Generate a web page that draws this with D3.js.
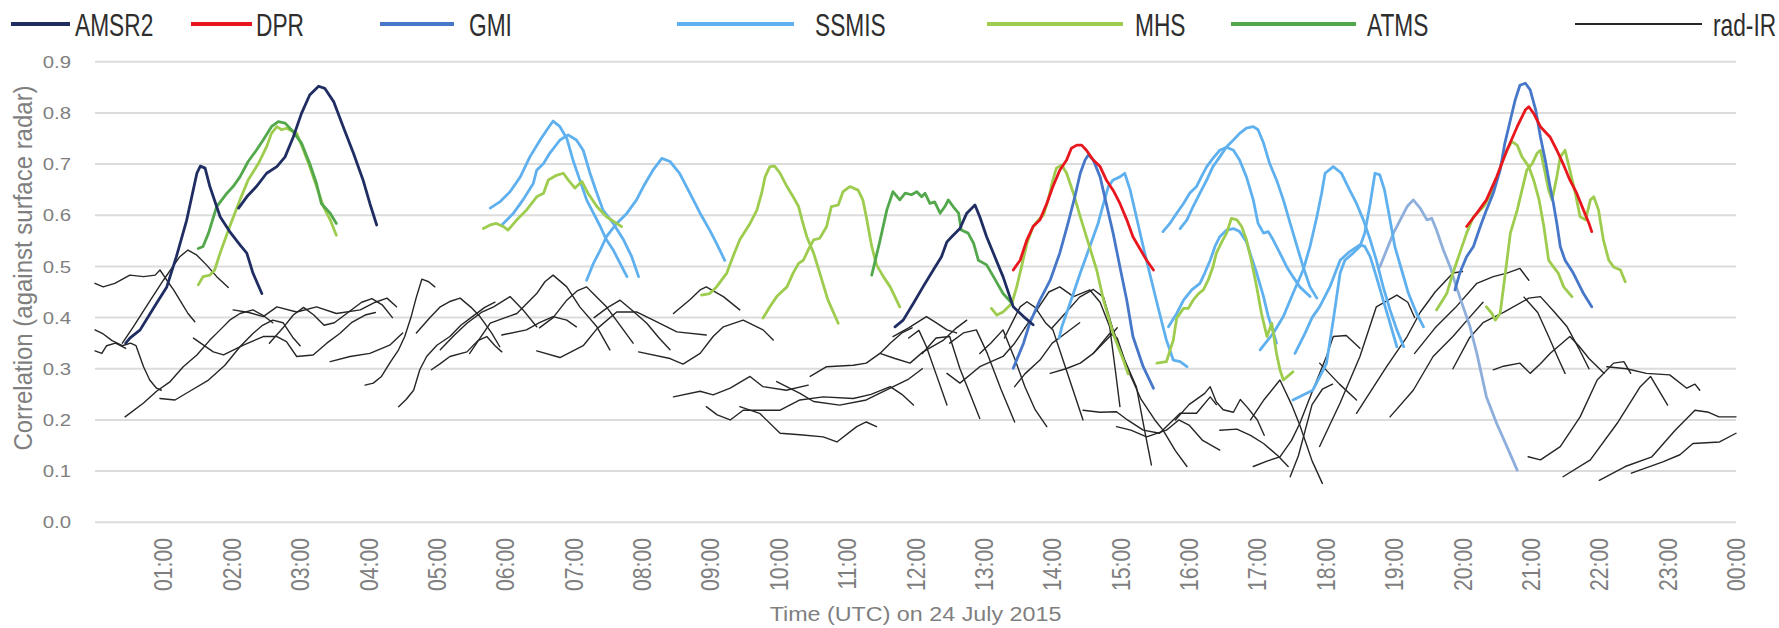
<!DOCTYPE html>
<html>
<head>
<meta charset="utf-8">
<script src="https://cdn.jsdelivr.net/npm/d3@7"></script>
<style>
  body { margin: 0; background: #fff; }
  text { font-family: "Liberation Sans", Arial, sans-serif; }
</style>
</head>
<body>
<div id="chart"></div>
<script>
// time in hours (UTC, 24 July 2015), correlation against surface radar
var seriesNames = ["AMSR2", "DPR", "GMI", "SSMIS", "MHS", "ATMS", "rad-IR"];
var yTicks = [0, 0.1, 0.2, 0.3, 0.4, 0.5, 0.6, 0.7, 0.8, 0.9];
var xTicks = [1, 2, 3, 4, 5, 6, 7, 8, 9, 10, 11, 12, 13, 14, 15, 16, 17, 18, 19, 20, 21, 22, 23, 24];
var xTickLabels = ["01:00", "02:00", "03:00", "04:00", "05:00", "06:00", "07:00", "08:00", "09:00", "10:00", "11:00", "12:00",
                   "13:00", "14:00", "15:00", "16:00", "17:00", "18:00", "19:00", "20:00", "21:00", "22:00", "23:00", "00:00"];

var amsr2 = [
  [[0.45,0.35],[0.51,0.36],[0.66,0.376],[0.90,0.428],[1.05,0.46],[1.19,0.519],[1.34,0.59],[1.49,0.682],[1.54,0.696],[1.61,0.692],[1.68,0.656],[1.83,0.597],[1.97,0.568],[2.12,0.542],[2.22,0.526],[2.31,0.487],[2.44,0.447]],
  [[2.10,0.614],[2.22,0.636],[2.36,0.656],[2.51,0.682],[2.66,0.695],[2.78,0.714],[2.90,0.753],[3.02,0.799],[3.14,0.835],[3.27,0.852],[3.36,0.848],[3.49,0.822],[3.63,0.773],[3.78,0.721],[3.92,0.669],[4.02,0.623],[4.12,0.581]],
  [[11.70,0.382],[11.82,0.395],[11.97,0.428],[12.11,0.46],[12.26,0.493],[12.38,0.519],[12.46,0.548],[12.53,0.558],[12.65,0.574],[12.75,0.604],[12.87,0.62],[12.94,0.597],[13.04,0.558],[13.16,0.519],[13.28,0.48],[13.43,0.421],[13.58,0.402],[13.72,0.386]]
];

var dpr = [
  [[13.43,0.493],[13.53,0.512],[13.63,0.552],[13.72,0.578],[13.82,0.591],[13.92,0.623],[14.01,0.656],[14.11,0.688],[14.21,0.708],[14.28,0.731],[14.36,0.737],[14.43,0.737],[14.50,0.727],[14.60,0.708],[14.70,0.695],[14.79,0.669],[14.89,0.649],[14.99,0.623],[15.09,0.591],[15.18,0.558],[15.28,0.535],[15.38,0.512],[15.48,0.493]],
  [[20.06,0.578],[20.21,0.604],[20.35,0.63],[20.50,0.675],[20.65,0.727],[20.80,0.773],[20.92,0.806],[20.97,0.812],[21.04,0.799],[21.14,0.773],[21.28,0.753],[21.38,0.727],[21.47,0.701],[21.57,0.669],[21.67,0.643],[21.77,0.61],[21.85,0.584],[21.89,0.568]]
];

var gmi = [
  [[13.43,0.301],[13.58,0.35],[13.67,0.389],[13.82,0.434],[13.97,0.473],[14.11,0.526],[14.23,0.584],[14.33,0.636],[14.41,0.682],[14.48,0.708],[14.53,0.718],[14.60,0.708],[14.70,0.675],[14.79,0.623],[14.89,0.565],[14.99,0.499],[15.09,0.434],[15.18,0.363],[15.33,0.304],[15.48,0.262]],
  [[19.89,0.454],[19.96,0.487],[20.06,0.519],[20.16,0.539],[20.26,0.578],[20.35,0.61],[20.45,0.643],[20.55,0.688],[20.62,0.741],[20.70,0.786],[20.77,0.825],[20.84,0.854],[20.92,0.858],[20.99,0.845],[21.07,0.806],[21.14,0.753],[21.21,0.708],[21.28,0.656],[21.33,0.623],[21.38,0.584],[21.43,0.539],[21.50,0.512],[21.62,0.487],[21.77,0.447],[21.89,0.421]]
];

var ssmis = [
  [[5.78,0.614],[5.92,0.626],[6.07,0.646],[6.22,0.675],[6.36,0.714],[6.51,0.747],[6.61,0.767],[6.70,0.784],[6.80,0.773],[6.90,0.75],[6.99,0.708],[7.09,0.669],[7.19,0.63],[7.29,0.604],[7.39,0.578],[7.48,0.552],[7.58,0.532],[7.68,0.506],[7.78,0.48]],
  [[5.95,0.581],[6.12,0.604],[6.26,0.63],[6.41,0.662],[6.46,0.688],[6.56,0.701],[6.65,0.721],[6.80,0.747],[6.92,0.757],[7.04,0.747],[7.14,0.727],[7.24,0.682],[7.34,0.643],[7.43,0.61],[7.58,0.584],[7.73,0.552],[7.85,0.519],[7.95,0.48]],
  [[7.19,0.473],[7.29,0.506],[7.39,0.532],[7.48,0.558],[7.63,0.584],[7.78,0.604],[7.92,0.63],[8.02,0.656],[8.16,0.688],[8.29,0.711],[8.41,0.705],[8.55,0.682],[8.70,0.643],[8.85,0.604],[8.99,0.571],[9.09,0.545],[9.21,0.512]],
  [[14.10,0.36],[14.14,0.382],[14.26,0.428],[14.41,0.487],[14.55,0.539],[14.67,0.584],[14.75,0.623],[14.82,0.656],[14.89,0.669],[14.99,0.675],[15.06,0.682],[15.14,0.649],[15.23,0.597],[15.33,0.539],[15.45,0.473],[15.57,0.408],[15.67,0.356],[15.77,0.317],[15.87,0.314],[15.97,0.304]],
  [[15.62,0.568],[15.72,0.584],[15.82,0.604],[15.92,0.623],[16.01,0.643],[16.11,0.656],[16.18,0.675],[16.26,0.695],[16.35,0.711],[16.45,0.727],[16.55,0.733],[16.65,0.727],[16.74,0.708],[16.84,0.675],[16.94,0.63],[17.01,0.584],[17.09,0.565],[17.16,0.568],[17.23,0.552],[17.33,0.526],[17.43,0.499],[17.52,0.48],[17.62,0.46],[17.77,0.441]],
  [[15.87,0.574],[15.97,0.591],[16.06,0.617],[16.16,0.643],[16.26,0.669],[16.35,0.695],[16.45,0.714],[16.55,0.734],[16.65,0.747],[16.74,0.76],[16.84,0.77],[16.94,0.773],[17.01,0.767],[17.09,0.741],[17.18,0.701],[17.28,0.669],[17.38,0.63],[17.48,0.584],[17.58,0.539],[17.67,0.499],[17.77,0.46],[17.87,0.438]],
  [[15.70,0.382],[15.82,0.408],[15.92,0.434],[16.04,0.454],[16.16,0.467],[16.23,0.487],[16.31,0.512],[16.38,0.539],[16.45,0.558],[16.55,0.571],[16.65,0.574],[16.74,0.568],[16.84,0.548],[16.91,0.519],[16.99,0.487],[17.09,0.441],[17.16,0.402],[17.21,0.382],[17.28,0.35]],
  [[17.04,0.337],[17.23,0.369],[17.38,0.402],[17.52,0.447],[17.67,0.493],[17.77,0.539],[17.87,0.597],[17.94,0.643],[17.99,0.682],[18.11,0.695],[18.23,0.682],[18.35,0.649],[18.45,0.623],[18.55,0.591],[18.65,0.552],[18.74,0.512],[18.84,0.46],[18.94,0.415],[19.04,0.376],[19.14,0.343]],
  [[17.55,0.33],[17.70,0.37],[17.80,0.40],[17.91,0.421],[18.06,0.46],[18.21,0.512],[18.35,0.529],[18.50,0.542],[18.57,0.539],[18.65,0.519],[18.74,0.48],[18.84,0.434],[18.94,0.389],[19.04,0.343]],
  [[17.52,0.239],[17.81,0.258],[18.01,0.31],[18.11,0.395],[18.21,0.487],[18.28,0.512],[18.40,0.526],[18.50,0.539],[18.57,0.565],[18.65,0.623],[18.72,0.682],[18.79,0.679],[18.86,0.649],[18.94,0.591],[19.01,0.539],[19.11,0.493],[19.21,0.447],[19.33,0.408],[19.43,0.382]]
];
// the paler SSMIS overpass near 19:00-21:00
var ssmisPale = [
  [[18.79,0.499],[18.89,0.532],[18.99,0.565],[19.09,0.591],[19.19,0.617],[19.28,0.63],[19.38,0.614],[19.48,0.591],[19.55,0.594],[19.62,0.571],[19.72,0.532],[19.82,0.499],[19.91,0.46],[20.01,0.421],[20.11,0.382],[20.21,0.33],[20.35,0.245],[20.50,0.193],[20.65,0.148],[20.80,0.102]]
];

var mhs = [
  [[1.51,0.464],[1.58,0.48],[1.68,0.483],[1.75,0.493],[1.83,0.526],[1.97,0.578],[2.12,0.63],[2.24,0.669],[2.39,0.701],[2.51,0.734],[2.58,0.76],[2.66,0.773],[2.73,0.767],[2.80,0.77],[2.95,0.76],[3.05,0.727],[3.14,0.695],[3.24,0.656],[3.34,0.617],[3.44,0.591],[3.53,0.561]],
  [[5.68,0.574],[5.78,0.581],[5.87,0.584],[5.97,0.578],[6.04,0.571],[6.17,0.591],[6.31,0.61],[6.46,0.636],[6.56,0.643],[6.63,0.669],[6.75,0.678],[6.85,0.682],[6.92,0.669],[7.02,0.653],[7.12,0.666],[7.21,0.643],[7.34,0.617],[7.48,0.597],[7.63,0.584],[7.70,0.578]],
  [[8.87,0.444],[8.99,0.447],[9.09,0.46],[9.24,0.487],[9.33,0.519],[9.43,0.552],[9.58,0.584],[9.68,0.61],[9.75,0.643],[9.80,0.675],[9.87,0.695],[9.94,0.696],[10.02,0.682],[10.12,0.656],[10.21,0.636],[10.29,0.617],[10.34,0.591],[10.41,0.558],[10.51,0.526],[10.60,0.487],[10.72,0.434],[10.87,0.389]],
  [[9.77,0.399],[9.87,0.421],[9.97,0.441],[10.12,0.46],[10.21,0.487],[10.29,0.506],[10.36,0.512],[10.43,0.532],[10.51,0.552],[10.60,0.555],[10.70,0.578],[10.77,0.617],[10.87,0.62],[10.94,0.646],[11.04,0.656],[11.16,0.649],[11.23,0.63],[11.28,0.597],[11.36,0.539],[11.43,0.503],[11.53,0.48],[11.63,0.46],[11.77,0.421]],
  [[13.11,0.418],[13.19,0.405],[13.28,0.411],[13.41,0.428],[13.48,0.46],[13.55,0.499],[13.63,0.545],[13.72,0.578],[13.80,0.591],[13.87,0.6],[13.94,0.63],[14.01,0.669],[14.06,0.692],[14.14,0.698],[14.21,0.682],[14.31,0.643],[14.41,0.597],[14.53,0.545],[14.65,0.493],[14.75,0.434],[14.89,0.369],[15.04,0.317],[15.11,0.29]],
  [[15.53,0.311],[15.67,0.314],[15.77,0.356],[15.82,0.399],[15.92,0.418],[15.99,0.418],[16.06,0.434],[16.14,0.447],[16.21,0.454],[16.28,0.473],[16.35,0.499],[16.40,0.526],[16.48,0.548],[16.55,0.565],[16.62,0.594],[16.70,0.591],[16.77,0.578],[16.84,0.552],[16.91,0.512],[16.99,0.46],[17.06,0.408],[17.14,0.363],[17.21,0.389],[17.28,0.33],[17.33,0.298],[17.38,0.278],[17.52,0.294]],
  [[19.62,0.415],[19.77,0.447],[19.86,0.487],[19.96,0.526],[20.06,0.565],[20.16,0.597],[20.31,0.617],[20.45,0.649],[20.57,0.701],[20.65,0.727],[20.72,0.744],[20.80,0.737],[20.87,0.714],[20.97,0.695],[21.04,0.669],[21.12,0.63],[21.19,0.578],[21.26,0.512],[21.33,0.499],[21.40,0.487],[21.48,0.46],[21.60,0.441]],
  [[20.35,0.421],[20.43,0.408],[20.48,0.395],[20.55,0.408],[20.62,0.48],[20.70,0.565],[20.80,0.61],[20.87,0.649],[20.94,0.688],[21.02,0.701],[21.09,0.721],[21.14,0.727],[21.19,0.695],[21.26,0.649],[21.31,0.63],[21.38,0.675],[21.43,0.714],[21.50,0.727],[21.57,0.688],[21.65,0.643],[21.72,0.597],[21.80,0.591],[21.87,0.63],[21.92,0.636],[21.99,0.61],[22.06,0.552],[22.14,0.512],[22.21,0.499],[22.31,0.493],[22.38,0.47]]
];

var atms = [
  [[1.51,0.535],[1.58,0.539],[1.66,0.565],[1.78,0.617],[1.93,0.643],[2.02,0.656],[2.12,0.675],[2.24,0.705],[2.36,0.727],[2.46,0.747],[2.58,0.773],[2.68,0.783],[2.78,0.78],[2.90,0.763],[3.02,0.741],[3.14,0.701],[3.24,0.662],[3.31,0.623],[3.44,0.604],[3.53,0.584]],
  [[11.36,0.483],[11.48,0.55],[11.58,0.61],[11.67,0.646],[11.77,0.63],[11.85,0.643],[11.94,0.64],[12.02,0.646],[12.09,0.636],[12.14,0.643],[12.21,0.623],[12.28,0.626],[12.36,0.604],[12.43,0.617],[12.48,0.63],[12.55,0.617],[12.63,0.604],[12.67,0.571],[12.77,0.565],[12.85,0.545],[12.92,0.512],[13.04,0.503],[13.14,0.48],[13.28,0.447],[13.41,0.428]]
];

var radIR = [
  [[0,0.467],[0.12,0.46],[0.29,0.467],[0.51,0.483],[0.71,0.48],[0.88,0.483],[0.95,0.493],[1.05,0.473],[1.15,0.454],[1.27,0.428],[1.36,0.408],[1.46,0.392]],
  [[0.4,0.35],[0.56,0.382],[0.78,0.428],[1.0,0.473],[1.24,0.519],[1.36,0.532],[1.49,0.522],[1.63,0.503],[1.78,0.48],[1.95,0.459]],
  [[0,0.376],[0.12,0.368],[0.25,0.355],[0.4,0.345],[0.52,0.35],[0.6,0.345],[0.71,0.304],[0.8,0.278],[0.9,0.262],[0.97,0.258]],
  [[0,0.335],[0.1,0.33],[0.17,0.345],[0.3,0.35],[0.45,0.34]],
  [[0.44,0.206],[0.71,0.233],[0.9,0.256],[1.1,0.275],[1.29,0.304],[1.49,0.327],[1.68,0.356],[1.83,0.376],[1.97,0.395],[2.12,0.408],[2.31,0.415],[2.45,0.405],[2.6,0.39]],
  [[0.95,0.242],[1.17,0.239],[1.41,0.258],[1.66,0.278],[1.9,0.307],[2.12,0.343],[2.31,0.369],[2.45,0.385],[2.6,0.395],[2.75,0.39],[2.9,0.36],[3.0,0.345]],
  [[1.44,0.36],[1.73,0.333],[1.88,0.327],[2.17,0.346],[2.46,0.363],[2.66,0.363],[2.8,0.353],[2.95,0.324],[3.19,0.327],[3.39,0.35],[3.58,0.369],[3.75,0.39],[3.95,0.405],[4.1,0.41]],
  [[2.02,0.415],[2.25,0.41],[2.46,0.402],[2.66,0.421],[2.95,0.411],[3.24,0.421],[3.53,0.408],[3.88,0.415],[4.1,0.43],[4.27,0.438],[4.41,0.421]],
  [[2.55,0.35],[2.75,0.38],[2.9,0.405],[3.05,0.42],[3.2,0.405],[3.35,0.385],[3.5,0.39],[3.7,0.41],[3.9,0.43],[4.05,0.437],[4.2,0.425],[4.35,0.4]],
  [[3.44,0.314],[3.73,0.324],[4.02,0.33],[4.31,0.346],[4.5,0.37]],
  [[3.95,0.268],[4.07,0.272],[4.19,0.285],[4.31,0.311],[4.44,0.337],[4.53,0.363],[4.62,0.4],[4.7,0.44],[4.78,0.475],[4.88,0.47],[4.97,0.46]],
  [[4.44,0.226],[4.55,0.24],[4.66,0.258],[4.75,0.298],[4.85,0.324],[5.0,0.346],[5.19,0.363],[5.35,0.385],[5.5,0.4],[5.7,0.42],[5.85,0.43]],
  [[4.92,0.298],[5.05,0.31],[5.19,0.324],[5.44,0.333],[5.6,0.355],[5.73,0.363],[5.85,0.345],[5.95,0.333]],
  [[4.7,0.37],[4.9,0.4],[5.05,0.421],[5.2,0.432],[5.34,0.438],[5.5,0.42],[5.63,0.402],[5.8,0.37],[5.92,0.343]],
  [[5.05,0.337],[5.25,0.365],[5.44,0.389],[5.65,0.41],[5.83,0.421],[6.07,0.441],[6.26,0.415],[6.46,0.382]],
  [[5.48,0.33],[5.78,0.389],[6.0,0.4],[6.17,0.408],[6.46,0.447],[6.58,0.47],[6.7,0.483],[6.9,0.46],[7.09,0.421],[7.34,0.382],[7.53,0.337]],
  [[5.95,0.366],[6.31,0.376],[6.5,0.39],[6.7,0.402],[6.9,0.395],[7.04,0.382]],
  [[6.46,0.335],[6.8,0.322],[7.14,0.345],[7.34,0.378],[7.63,0.411],[7.92,0.411],[8.21,0.392],[8.51,0.372],[8.94,0.366]],
  [[6.5,0.38],[6.7,0.4],[6.9,0.434],[7.05,0.452],[7.19,0.46],[7.3,0.445],[7.48,0.421],[7.65,0.39],[7.87,0.35]],
  [[7.3,0.4],[7.5,0.42],[7.68,0.434],[7.85,0.415],[8.07,0.389],[8.25,0.36],[8.41,0.337]],
  [[7.95,0.333],[8.41,0.32],[8.6,0.309],[8.85,0.33],[9.04,0.363],[9.19,0.382],[9.48,0.395],[9.77,0.376],[9.92,0.356]],
  [[8.46,0.408],[8.7,0.435],[8.85,0.454],[8.94,0.46],[9.19,0.441],[9.43,0.415]],
  [[8.46,0.245],[8.85,0.256],[9.04,0.249],[9.29,0.262],[9.58,0.285],[9.77,0.265],[10.11,0.258],[10.43,0.268]],
  [[8.94,0.226],[9.1,0.21],[9.29,0.2],[9.48,0.219],[10.02,0.219],[10.31,0.239],[10.65,0.245],[11.09,0.242],[11.35,0.25],[11.63,0.265],[11.8,0.25],[11.97,0.229]],
  [[9.43,0.226],[9.72,0.213],[10.02,0.174],[10.31,0.171],[10.65,0.167],[10.85,0.157],[11.14,0.187],[11.28,0.196],[11.43,0.187]],
  [[9.97,0.275],[10.31,0.252],[10.51,0.236],[10.89,0.229],[11.28,0.239],[11.63,0.262],[11.9,0.28],[12.1,0.3]],
  [[10.46,0.285],[10.7,0.304],[11.09,0.307],[11.28,0.311],[11.48,0.33],[11.63,0.35],[11.8,0.37],[11.95,0.38]],
  [[11.48,0.33],[11.7,0.32],[11.92,0.311],[12.11,0.333],[12.41,0.356],[12.6,0.38],[12.75,0.395]],
  [[11.67,0.363],[11.9,0.38],[12.16,0.402],[12.3,0.39],[12.46,0.376],[12.6,0.37]],
  [[11.9,0.36],[12.05,0.375],[12.16,0.343],[12.3,0.29],[12.46,0.229]],
  [[12.1,0.33],[12.3,0.36],[12.5,0.363],[12.65,0.3],[12.8,0.25],[12.94,0.203]],
  [[12.46,0.291],[12.65,0.272],[12.94,0.304],[13.28,0.324],[13.45,0.35],[13.6,0.38]],
  [[12.5,0.35],[12.7,0.37],[12.89,0.376],[13.05,0.33],[13.25,0.26],[13.45,0.196]],
  [[12.94,0.33],[13.1,0.35],[13.28,0.376],[13.45,0.32],[13.6,0.265],[13.75,0.22],[13.92,0.187]],
  [[13.45,0.265],[13.6,0.29],[13.82,0.317],[14.0,0.35],[14.2,0.37],[14.4,0.39]],
  [[13.97,0.291],[14.2,0.3],[14.41,0.311],[14.6,0.33],[14.84,0.363],[14.95,0.38]],
  [[13.3,0.36],[13.45,0.4],[13.53,0.421],[13.63,0.431],[13.75,0.42],[13.9,0.39],[14.01,0.376],[14.2,0.3],[14.45,0.2]],
  [[13.6,0.38],[13.8,0.42],[13.95,0.45],[14.11,0.46],[14.31,0.441],[14.55,0.454],[14.7,0.43],[14.84,0.382],[14.92,0.3],[14.99,0.226]],
  [[14.0,0.38],[14.2,0.41],[14.4,0.44],[14.6,0.455],[14.75,0.44],[14.89,0.376],[15.05,0.32],[15.23,0.265],[15.35,0.18],[15.45,0.112]],
  [[14.45,0.219],[14.7,0.215],[14.94,0.216],[15.1,0.2],[15.33,0.18],[15.57,0.174],[15.87,0.213],[16.11,0.213],[16.31,0.245],[16.4,0.23]],
  [[14.6,0.33],[14.84,0.369],[14.95,0.36],[15.1,0.3],[15.3,0.24],[15.5,0.2],[15.62,0.18],[15.8,0.14],[15.97,0.109]],
  [[14.94,0.187],[15.15,0.18],[15.38,0.167],[15.67,0.18],[15.85,0.2],[16.0,0.19],[16.2,0.16],[16.45,0.141]],
  [[15.8,0.2],[16.0,0.23],[16.23,0.252],[16.31,0.265],[16.4,0.235],[16.5,0.22],[16.65,0.215],[16.75,0.24],[16.85,0.225],[17.0,0.2],[17.1,0.17]],
  [[16.45,0.18],[16.7,0.182],[16.9,0.17],[17.09,0.154],[17.3,0.13],[17.45,0.109]],
  [[16.94,0.109],[17.15,0.12],[17.33,0.128],[17.5,0.16],[17.62,0.193],[17.81,0.258],[18.01,0.324],[18.11,0.363],[18.3,0.365],[18.5,0.34]],
  [[17.48,0.089],[17.6,0.13],[17.7,0.18],[17.8,0.23],[17.95,0.26],[18.1,0.27]],
  [[16.9,0.2],[17.1,0.24],[17.33,0.278],[17.5,0.23],[17.62,0.19],[17.8,0.12],[17.95,0.076]],
  [[17.91,0.148],[18.21,0.233],[18.5,0.324],[18.74,0.421],[19.04,0.444],[19.2,0.43],[19.3,0.4]],
  [[18.45,0.213],[18.89,0.304],[19.19,0.363],[19.38,0.41],[19.6,0.45],[19.86,0.487],[20.0,0.49]],
  [[18.94,0.206],[19.28,0.258],[19.57,0.324],[19.86,0.363],[20.1,0.4],[20.3,0.43]],
  [[17.91,0.311],[18.2,0.27],[18.45,0.239]],
  [[19.3,0.33],[19.6,0.38],[19.9,0.42],[20.21,0.467],[20.45,0.48],[20.65,0.487],[20.84,0.496],[20.97,0.473]],
  [[19.86,0.3],[20.1,0.36],[20.3,0.39],[20.6,0.41],[20.97,0.438],[21.14,0.441],[21.35,0.41],[21.53,0.382],[21.7,0.34],[21.85,0.3]],
  [[20.45,0.298],[20.6,0.305],[20.84,0.311],[20.99,0.291],[21.14,0.31],[21.28,0.33],[21.57,0.363],[21.7,0.345],[21.85,0.32],[22.07,0.291]],
  [[20.9,0.44],[21.1,0.41],[21.26,0.363],[21.4,0.32],[21.5,0.291]],
  [[20.96,0.128],[21.14,0.122],[21.43,0.148],[21.72,0.206],[21.97,0.278],[22.21,0.311],[22.36,0.314],[22.46,0.291]],
  [[21.47,0.089],[21.87,0.122],[22.26,0.193],[22.6,0.265],[22.75,0.285],[23.0,0.229]],
  [[22.11,0.304],[22.4,0.3],[22.69,0.291],[23.03,0.288],[23.28,0.262],[23.4,0.27],[23.47,0.258]],
  [[22.0,0.082],[22.38,0.109],[22.77,0.128],[23.11,0.18],[23.4,0.219],[23.6,0.215],[23.75,0.206],[24.0,0.206]],
  [[22.47,0.096],[22.93,0.118],[23.18,0.132],[23.37,0.154],[23.76,0.157],[24.0,0.174]]
];

var colors = {
  "AMSR2": "#1f2d63",
  "DPR": "#e8161d",
  "GMI": "#4677c8",
  "SSMIS": "#5fb0ee",
  "SSMIS-pale": "#8eaedc",
  "MHS": "#9dcc4e",
  "ATMS": "#52a84b",
  "rad-IR": "#262626"
};

var width = 1779;
var height = 628;

var svg = d3.select("#chart")
  .append("svg")
  .attr("width", width)
  .attr("height", height);

var xScale = d3.scaleLinear().domain([0, 24]).range([95, 1736]);
var yScale = d3.scaleLinear().domain([0, 0.9]).range([522.3, 61.7]);

// gridlines
svg.selectAll("line.grid")
  .data(yTicks)
  .enter()
  .append("line")
  .attr("class", "grid")
  .attr("x1", xScale(0))
  .attr("x2", xScale(24))
  .attr("y1", function(d) { return yScale(d); })
  .attr("y2", function(d) { return yScale(d); })
  .attr("stroke", "#dcdcdc")
  .attr("stroke-width", 2);

// y tick labels
svg.selectAll("text.ytick")
  .data(yTicks)
  .enter()
  .append("text")
  .attr("class", "ytick")
  .attr("transform", function(d) { return "translate(71," + yScale(d) + ") scale(1.2,1)"; })
  .attr("text-anchor", "end")
  .attr("dy", "0.36em")
  .attr("font-size", 17)
  .attr("fill", "#7f7f7f")
  .text(function(d) { return d.toFixed(1); });

// x tick labels (rotated)
svg.selectAll("text.xtick")
  .data(xTicks)
  .enter()
  .append("text")
  .attr("class", "xtick")
  .attr("transform", function(d) { return "translate(" + xScale(d) + ",538) rotate(-90) scale(1.06,1.25)"; })
  .attr("text-anchor", "end")
  .attr("dy", "0.36em")
  .attr("font-size", 20)
  .attr("fill", "#7f7f7f")
  .text(function(d, i) { return xTickLabels[i]; });

// axis titles
svg.append("text")
  .attr("transform", "translate(" + ((xScale(0) + xScale(24)) / 2) + ",621) scale(1.11,1)")
  .attr("text-anchor", "middle")
  .attr("font-size", 21)
  .attr("fill", "#7f7f7f")
  .text("Time (UTC) on 24 July 2015");

svg.append("text")
  .attr("transform", "translate(23,268) rotate(-90) scale(1.2,1.3)")
  .attr("text-anchor", "middle")
  .attr("dy", "0.36em")
  .attr("font-size", 20)
  .attr("fill", "#7f7f7f")
  .text("Correlation (against surface radar)");

var line = d3.line()
  .x(function(d) { return xScale(d[0]); })
  .y(function(d) { return yScale(d[1]); });

function drawSegments(segments, name, strokeWidth) {
  svg.append("g")
    .selectAll("path")
    .data(segments)
    .enter()
    .append("path")
    .attr("d", line)
    .attr("fill", "none")
    .attr("stroke", colors[name])
    .attr("stroke-width", strokeWidth)
    .attr("stroke-linejoin", "round")
    .attr("stroke-linecap", "round");
}

drawSegments(radIR, "rad-IR", 1.4);
drawSegments(ssmisPale, "SSMIS-pale", 2.8);
drawSegments(ssmis, "SSMIS", 2.8);
drawSegments(mhs, "MHS", 2.8);
drawSegments(atms, "ATMS", 2.8);
drawSegments(gmi, "GMI", 2.8);
drawSegments(dpr, "DPR", 2.8);
drawSegments(amsr2, "AMSR2", 2.8);

// legend across the top: key line start/end and label start
var legendLayout = [[11, 70, 75], [191, 252, 256], [380, 454, 469], [677, 794, 815],
                    [987, 1123, 1135], [1231, 1356, 1367], [1575, 1702, 1713]];
var legend = svg.selectAll("g.legend")
  .data(seriesNames)
  .enter()
  .append("g")
  .attr("class", "legend");

legend.append("line")
  .attr("x1", function(d, i) { return legendLayout[i][0]; })
  .attr("x2", function(d, i) { return legendLayout[i][1]; })
  .attr("y1", 24)
  .attr("y2", 24)
  .attr("stroke", function(d) { return colors[d]; })
  .attr("stroke-width", function(d) { return d == "rad-IR" ? 2 : 4; });

legend.append("text")
  .attr("transform", function(d, i) { return "translate(" + legendLayout[i][2] + ",35.5) scale(0.71,1)"; })
  .attr("font-size", 32)
  .attr("fill", "#2e2e2e")
  .text(function(d) { return d; });
</script>
</body>
</html>
